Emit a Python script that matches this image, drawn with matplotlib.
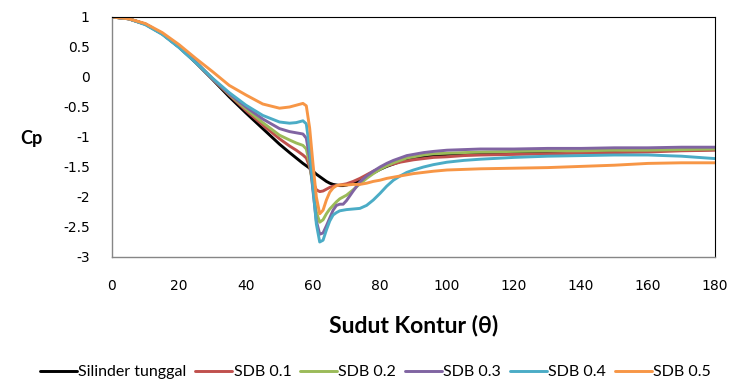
import matplotlib
matplotlib.use("Agg")
import matplotlib.pyplot as plt

# Contour angle (degrees)
theta = [0, 5, 10, 15, 20, 25, 30, 35, 40, 45,
         50, 53, 55, 57, 58, 59, 60, 61, 62, 63,
         64, 65, 66, 67, 68, 69, 70, 72, 74, 76,
         78, 80, 82, 84, 86, 88, 90, 93, 96, 100,
         105, 110, 120, 130, 140, 150, 160, 170, 180]

# Pressure coefficient for each configuration
cp_single = [1.0, 0.97, 0.88, 0.72, 0.50, 0.24, -0.04, -0.33, -0.60, -0.86,
             -1.12, -1.26, -1.35, -1.44, -1.48, -1.52, -1.57, -1.62, -1.66, -1.70,
             -1.74, -1.77, -1.79, -1.80, -1.81, -1.81, -1.80, -1.77, -1.72, -1.66,
             -1.60, -1.54, -1.49, -1.45, -1.41, -1.38, -1.36, -1.33, -1.31, -1.29,
             -1.28, -1.27, -1.26, -1.25, -1.24, -1.23, -1.23, -1.22, -1.21]

cp_sdb01 = [1.0, 0.97, 0.88, 0.72, 0.50, 0.25, -0.03, -0.30, -0.56, -0.80,
            -1.03, -1.15, -1.22, -1.30, -1.35, -1.50, -1.75, -1.88, -1.91, -1.90,
            -1.87, -1.84, -1.82, -1.81, -1.80, -1.79, -1.78, -1.74, -1.69, -1.63,
            -1.57, -1.52, -1.48, -1.45, -1.42, -1.40, -1.38, -1.36, -1.34, -1.33,
            -1.31, -1.30, -1.29, -1.28, -1.27, -1.26, -1.25, -1.23, -1.22]

cp_sdb02 = [1.0, 0.97, 0.88, 0.72, 0.50, 0.25, -0.03, -0.29, -0.53, -0.76,
            -0.97, -1.05, -1.10, -1.14, -1.20, -1.45, -1.85, -2.25, -2.42, -2.38,
            -2.28, -2.20, -2.14, -2.08, -2.03, -2.00, -1.97, -1.88, -1.78, -1.69,
            -1.61, -1.54, -1.48, -1.43, -1.39, -1.35, -1.33, -1.30, -1.28, -1.27,
            -1.26, -1.25, -1.24, -1.23, -1.23, -1.22, -1.22, -1.21, -1.20]

cp_sdb03 = [1.0, 0.97, 0.88, 0.72, 0.50, 0.25, -0.03, -0.28, -0.50, -0.70,
            -0.86, -0.91, -0.93, -0.95, -1.02, -1.35, -1.90, -2.40, -2.62, -2.60,
            -2.48, -2.35, -2.22, -2.14, -2.12, -2.12, -2.06, -1.90, -1.75, -1.65,
            -1.57, -1.50, -1.44, -1.39, -1.35, -1.31, -1.29, -1.26, -1.24, -1.22,
            -1.21, -1.20, -1.20, -1.19, -1.19, -1.18, -1.18, -1.17, -1.17]

cp_sdb04 = [1.0, 0.97, 0.87, 0.71, 0.49, 0.24, -0.02, -0.26, -0.47, -0.64,
            -0.75, -0.77, -0.76, -0.73, -0.78, -1.20, -1.85, -2.45, -2.75, -2.72,
            -2.55, -2.40, -2.30, -2.26, -2.23, -2.22, -2.21, -2.20, -2.19, -2.14,
            -2.05, -1.94, -1.82, -1.72, -1.65, -1.59, -1.55, -1.50, -1.46, -1.42,
            -1.39, -1.37, -1.34, -1.32, -1.31, -1.30, -1.30, -1.32, -1.36]

cp_sdb05 = [1.0, 0.97, 0.89, 0.74, 0.54, 0.31, 0.09, -0.14, -0.30, -0.45,
            -0.52, -0.50, -0.47, -0.44, -0.48, -0.85, -1.45, -2.00, -2.28, -2.22,
            -2.05, -1.92, -1.85, -1.81, -1.80, -1.80, -1.80, -1.79, -1.79, -1.77,
            -1.74, -1.72, -1.69, -1.67, -1.65, -1.63, -1.61, -1.59, -1.57, -1.55,
            -1.54, -1.53, -1.52, -1.51, -1.49, -1.47, -1.44, -1.43, -1.43]

series_labels = ["Silinder tunggal", "SDB 0.1", "SDB 0.2", "SDB 0.3", "SDB 0.4", "SDB 0.5"]
series_values = [cp_single, cp_sdb01, cp_sdb02, cp_sdb03, cp_sdb04, cp_sdb05]
series_colors = ["#000000", "#C0504D", "#9BBB59", "#8064A2", "#4BACC6", "#F79646"]

x_ticks = [0, 20, 40, 60, 80, 100, 120, 140, 160, 180]
y_ticks = [1, 0.5, 0, -0.5, -1, -1.5, -2, -2.5, -3]
y_tick_labels = ["1", "0.5", "0", "-0.5", "-1", "-1.5", "-2", "-2.5", "-3"]

fig = plt.figure(figsize=(7.32, 3.83), dpi=100)
ax = fig.add_axes([112 / 732, 1 - 257 / 383, (715 - 112) / 732, (257 - 17) / 383])

for label, vals, col in zip(series_labels, series_values, series_colors):
    ax.plot(theta, vals, color=col, lw=2.1, label=label, solid_capstyle="round")

ax.set_xlim(0, 180)
ax.set_ylim(-3, 1)
ax.set_xticks(x_ticks)
ax.set_yticks(y_ticks)
ax.set_yticklabels(y_tick_labels)
ax.tick_params(axis="both", length=0, labelsize=10, colors="#000000")
ax.tick_params(axis="y", pad=16)
ax.tick_params(axis="x", pad=16)
for lab in ax.get_xticklabels() + ax.get_yticklabels():
    lab.set_family("DejaVu Sans")

for side in ("left", "bottom"):
    ax.spines[side].set_color("#868686")
    ax.spines[side].set_linewidth(1.0)
for side in ("top", "right"):
    ax.spines[side].set_color("#000000")
    ax.spines[side].set_linewidth(0.8)

fig.text(413.5 / 732, 1 - 326 / 383, "Sudut Kontur (θ)", ha="center", va="center",
         fontsize=16.5, fontweight="bold", family=["Lato", "DejaVu Sans"])
fig.text(31 / 732, 1 - 139 / 383, "Cp", ha="center", va="center",
         fontsize=13, fontweight="bold", family=["Lato", "DejaVu Sans"])

leg = fig.legend(loc="center", bbox_to_anchor=(375.5 / 732, 1 - 372 / 383), ncol=6,
                 frameon=False, handlelength=2.3, handletextpad=0.1,
                 columnspacing=0.55, prop={"family": ["Lato", "DejaVu Sans"], "size": 11.5})

fig.savefig("out.png", dpi=100)
